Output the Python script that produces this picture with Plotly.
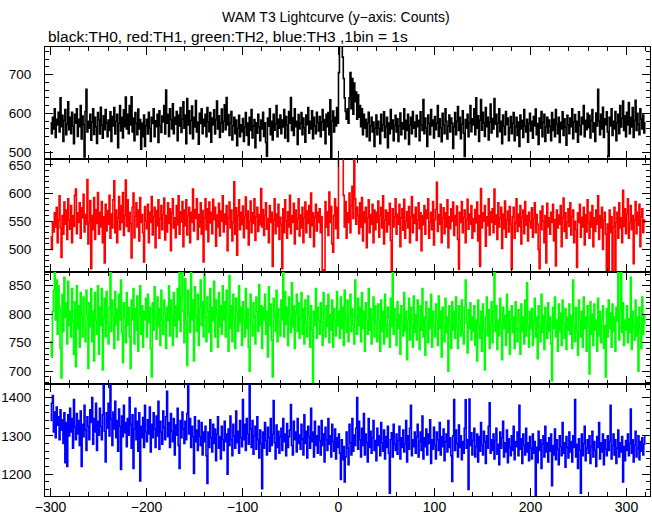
import plotly.graph_objects as go

# time bins (1 bin = 1 s), first bin at t = -300
t_start = -300

# TH0 (black) counts per 1 s bin
th0 = [
575, 548, 590, 560, 612, 538, 585, 570, 603, 552, 640, 566, 595, 528, 582, 610, 545, 572, 630, 558,
590, 548, 603, 567, 522, 598, 575, 612, 541, 585, 566, 620, 534, 593, 571, 488, 605, 662, 552, 580,
562, 598, 531, 578, 612, 546, 590, 565, 523, 602, 584, 547, 616, 570, 536, 594, 558, 610, 575, 540,
583, 556, 604, 528, 592, 568, 615, 547, 580, 598, 512, 574, 620, 555, 590, 537, 609, 566, 642, 560,
598, 548, 620, 570, 643, 552, 588, 530, 602, 575, 545, 611, 560, 584, 508, 575, 540, 596, 515, 568,
585, 547, 603, 562, 528, 590, 574, 612, 540, 581, 566, 598, 525, 607, 569, 551, 593, 578, 620, 547,
660, 575, 598, 541, 612, 584, 560, 625, 548, 590, 572, 605, 530, 596, 568, 615, 551, 585, 630, 562,
596, 522, 638, 570, 607, 548, 582, 619, 535, 590, 565, 633, 552, 578, 521, 600, 574, 612, 548, 585,
567, 598, 540, 615, 578, 553, 602, 526, 588, 570, 609, 547, 584, 632, 560, 594, 538, 575, 611, 552,
580, 622, 558, 641, 570, 597, 543, 576, 605, 532, 568, 590, 548, 583, 517, 562, 595, 540, 571, 552,
587, 528, 565, 602, 543, 575, 519, 590, 556, 610, 537, 568, 584, 512, 576, 549, 598, 565, 530, 583,
560, 603, 541, 576, 525, 490, 588, 567, 612, 545, 580, 532, 598, 557, 574, 620, 540, 585, 562, 596,
548, 583, 565, 610, 537, 592, 570, 528, 605, 575, 641, 556, 589, 543, 612, 566, 580, 520, 597, 560,
575, 602, 545, 588, 563, 526, 596, 571, 615, 549, 580, 560, 607, 535, 590, 568, 548, 603, 576, 555,
592, 540, 578, 610, 557, 584, 522, 598, 566, 602, 545, 635, 486, 580, 606, 552, 590, 568, 615, 575,
705, 790, 805, 785, 745, 690, 640, 605, 585, 612, 575, 640, 705, 612, 690, 598, 678, 630, 655, 585,
648, 590, 620, 566, 612, 545, 598, 562, 585, 540, 576, 603, 530, 568, 590, 552, 578, 515, 562, 596,
545, 580, 562, 522, 598, 555, 571, 604, 538, 566, 590, 512, 575, 548, 610, 560, 583, 530, 569, 595,
552, 586, 528, 567, 601, 545, 576, 560, 612, 535, 582, 556, 598, 520, 570, 590, 548, 605, 562, 578,
540, 595, 566, 582, 530, 604, 571, 556, 636, 548, 588, 562, 515, 596, 574, 545, 610, 568, 583, 537,
592, 558, 575, 620, 541, 586, 563, 527, 600, 570, 548, 612, 580, 534, 567, 596, 552, 588, 575, 510,
565, 602, 545, 580, 618, 556, 590, 535, 572, 607, 549, 489, 584, 562, 598, 540, 575, 620, 553, 586,
570, 612, 545, 640, 562, 594, 528, 582, 636, 557, 603, 575, 541, 615, 566, 590, 532, 578, 624, 550,
587, 560, 638, 572, 598, 540, 575, 612, 553, 580, 522, 596, 567, 545, 605, 571, 588, 530, 563, 592,
548, 575, 602, 530, 566, 590, 543, 578, 515, 596, 560, 582, 538, 610, 567, 552, 585, 526, 574, 600,
555, 580, 536, 592, 568, 611, 545, 574, 520, 588, 562, 605, 540, 577, 598, 528, 565, 590, 550, 583,
567, 530, 602, 556, 585, 540, 610, 572, 548, 590, 525, 577, 560, 604, 543, 586, 565, 518, 595, 571,
548, 588, 566, 612, 535, 578, 597, 552, 580, 526, 604, 569, 545, 590, 573, 620, 540, 582, 558, 600,
563, 595, 537, 582, 610, 552, 576, 528, 601, 568, 662, 580, 545, 598, 560, 616, 538, 586, 571, 604,
552, 489, 590, 568, 612, 543, 580, 560, 605, 530, 576, 598, 548, 620, 565, 587, 632, 556, 594, 540,
603, 570, 628, 548, 590, 565, 615, 538, 582, 634, 556, 600, 572, 545, 612, 585, 560, 596, 550, 578,
]

# TH1 (red)
th1 = [
522, 500, 548, 531, 565, 540, 575, 512, 553, 595, 538, 486, 560, 527, 584, 545, 570, 518, 590, 552,
536, 578, 512, 560, 541, 596, 607, 528, 565, 548, 583, 520, 574, 556, 598, 531, 562, 545, 624, 510,
548, 587, 466, 560, 535, 592, 518, 571, 546, 601, 527, 566, 540, 585, 512, 558, 476, 580, 533, 569,
545, 596, 520, 563, 538, 588, 622, 530, 570, 512, 556, 594, 535, 578, 548, 601, 525, 560, 623, 541,
588, 532, 566, 546, 485, 575, 600, 521, 559, 583, 540, 570, 515, 592, 548, 562, 530, 478, 576, 551,
537, 580, 512, 566, 548, 594, 526, 558, 575, 503, 569, 542, 588, 520, 555, 578, 535, 562, 591, 517,
560, 531, 583, 546, 572, 498, 565, 590, 538, 556, 521, 578, 544, 595, 527, 567, 549, 585, 505, 570,
542, 588, 526, 560, 575, 512, 566, 548, 607, 533, 571, 555, 590, 518, 562, 540, 583, 527, 569, 478,
556, 590, 535, 572, 514, 584, 547, 566, 528, 589, 553, 575, 506, 561, 540, 582, 524, 568, 550, 595,
531, 563, 545, 578, 498, 556, 584, 538, 570, 515, 548, 620, 527, 574, 490, 560, 588, 535, 566, 544,
577, 521, 559, 593, 537, 568, 508, 550, 586, 530, 565, 546, 590, 516, 558, 575, 532, 562, 544, 608,
540, 571, 525, 560, 583, 536, 555, 512, 578, 548, 566, 470, 552, 590, 528, 563, 541, 580, 518, 557,
545, 466, 572, 530, 588, 551, 520, 567, 540, 596, 528, 560, 548, 582, 510, 570, 536, 555, 590, 524,
561, 538, 575, 512, 556, 584, 530, 568, 546, 578, 522, 600, 542, 565, 505, 557, 580, 533, 566, 548,
572, 530, 558, 462, 464, 463, 585, 540, 567, 525, 602, 548, 576, 510, 495, 560, 590, 537, 575, 520,
672, 690, 668, 700, 665, 596, 540, 585, 520, 565, 548, 600, 530, 578, 612, 555, 668, 590, 545, 575,
560, 528, 583, 540, 592, 515, 567, 548, 575, 503, 556, 588, 530, 562, 545, 580, 512, 570, 535, 566,
548, 586, 522, 560, 575, 538, 595, 510, 553, 570, 531, 565, 544, 582, 516, 461, 572, 540, 558, 590,
527, 563, 545, 580, 505, 556, 572, 534, 589, 520, 550, 567, 538, 576, 512, 558, 594, 530, 562, 546,
575, 516, 552, 583, 537, 565, 498, 560, 544, 578, 527, 570, 555, 590, 520, 548, 566, 535, 585, 508,
553, 571, 619, 532, 562, 545, 580, 512, 556, 574, 528, 565, 540, 588, 503, 558, 537, 572, 550, 584,
525, 560, 543, 577, 518, 465, 566, 548, 585, 530, 557, 570, 512, 553, 589, 536, 563, 545, 578, 520,
555, 532, 571, 547, 584, 515, 560, 470, 608, 538, 565, 550, 578, 506, 558, 542, 590, 526, 567, 548,
572, 530, 607, 545, 561, 518, 583, 540, 556, 575, 502, 563, 537, 586, 522, 552, 568, 531, 576, 545,
465, 558, 575, 520, 547, 590, 532, 563, 541, 578, 510, 556, 570, 528, 585, 543, 560, 515, 566, 550,
538, 574, 522, 555, 583, 530, 562, 545, 500, 466, 568, 535, 577, 550, 512, 560, 476, 582, 540, 556,
527, 566, 548, 580, 515, 553, 471, 570, 538, 561, 545, 578, 505, 556, 591, 532, 565, 520, 548, 572,
541, 583, 526, 558, 570, 512, 550, 535, 468, 565, 548, 580, 522, 557, 540, 575, 508, 562, 531, 588,
548, 520, 566, 540, 578, 505, 556, 532, 570, 545, 595, 518, 560, 538, 575, 500, 552, 566, 527, 462,
545, 462, 570, 530, 558, 461, 540, 575, 463, 548, 566, 520, 583, 538, 556, 512, 605, 541, 572, 528,
563, 590, 520, 548, 578, 535, 560, 475, 552, 585, 528, 566, 543, 580, 505, 558, 572, 530, 552, 547,
]

# TH2 (green)
th2 = [
752, 725, 805, 842, 873, 790, 860, 765, 850, 812, 740, 688, 835, 770, 865, 795, 820, 748, 858, 780,
805, 760, 845, 788, 730, 822, 708, 850, 775, 815, 742, 838, 798, 760, 830, 785, 752, 842, 800, 705,
820, 778, 845, 752, 805, 718, 838, 790, 765, 850, 730, 812, 780, 845, 702, 795, 828, 760, 840, 785,
748, 812, 873, 770, 825, 795, 740, 840, 782, 810, 755, 835, 790, 860, 768, 715, 820, 795, 750, 838,
780, 812, 760, 705, 825, 790, 845, 748, 810, 772, 832, 735, 798, 850, 765, 815, 742, 805, 790, 828,
760, 835, 785, 812, 740, 690, 820, 772, 848, 795, 756, 830, 778, 810, 745, 842, 790, 765, 825, 800,
740, 812, 788, 850, 762, 825, 795, 745, 838, 780, 815, 760, 845, 790, 874, 770, 830, 876, 805, 750,
862, 785, 710, 842, 800, 768, 875, 790, 825, 718, 848, 795, 770, 835, 745, 812, 860, 780, 822, 760,
870, 795, 752, 830, 805, 768, 845, 735, 812, 788, 858, 760, 825, 800, 742, 838, 778, 815, 765, 850,
790, 822, 760, 842, 798, 735, 868, 775, 815, 752, 835, 792, 740, 828, 805, 770, 850, 785, 812, 745,
822, 790, 760, 845, 775, 810, 742, 700, 835, 785, 762, 820, 795, 748, 830, 805, 770, 852, 780, 815,
740, 812, 790, 835, 765, 805, 725, 848, 780, 818, 755, 690, 828, 795, 770, 842, 752, 810, 785, 762,
825, 790, 876, 760, 840, 782, 812, 745, 830, 795, 768, 855, 778, 815, 740, 802, 835, 770, 820, 758,
792, 838, 765, 810, 748, 825, 785, 760, 832, 798, 742, 815, 772, 679, 805, 780, 845, 758, 812, 790,
765, 820, 785, 745, 838, 792, 760, 815, 778, 835, 750, 800, 772, 825, 742, 810, 788, 762, 840, 780,
805, 758, 830, 775, 812, 745, 842, 790, 768, 825, 752, 798, 835, 770, 810, 782, 748, 860, 795, 765,
828, 780, 812, 752, 838, 775, 805, 735, 820, 790, 765, 845, 772, 810, 748, 795, 830, 760, 815, 785,
752, 818, 790, 735, 825, 770, 805, 748, 835, 782, 760, 812, 795, 742, 828, 778, 873, 765, 810, 790,
745, 822, 775, 800, 730, 815, 785, 762, 838, 770, 805, 720, 790, 828, 755, 812, 780, 742, 832, 768,
800, 755, 825, 780, 738, 815, 772, 845, 760, 795, 728, 822, 788, 750, 810, 775, 835, 742, 805, 782,
760, 818, 790, 745, 832, 775, 805, 725, 812, 780, 752, 828, 768, 795, 700, 815, 785, 740, 822, 772,
805, 758, 830, 778, 740, 815, 790, 762, 825, 770, 748, 812, 860, 785, 732, 808, 775, 820, 755, 795,
770, 815, 745, 790, 718, 825, 780, 758, 805, 735, 818, 772, 702, 795, 830, 762, 808, 740, 785, 822,
750, 805, 876, 770, 815, 738, 790, 762, 828, 780, 720, 812, 775, 798, 745, 835, 768, 805, 730, 790,
815, 768, 795, 740, 822, 775, 752, 808, 785, 730, 818, 770, 795, 748, 825, 762, 855, 780, 742, 805,
775, 810, 745, 790, 828, 760, 795, 722, 815, 780, 752, 835, 768, 798, 738, 812, 785, 758, 820, 770,
795, 748, 683, 812, 775, 830, 760, 790, 735, 818, 770, 802, 745, 825, 782, 758, 810, 738, 795, 772,
818, 765, 798, 740, 860, 782, 752, 812, 770, 728, 825, 790, 760, 805, 742, 830, 775, 795, 735, 815,
780, 695, 822, 765, 800, 745, 818, 772, 790, 735, 828, 762, 805, 750, 792, 815, 740, 780, 690, 810,
760, 825, 775, 802, 742, 818, 770, 795, 735, 812, 788, 876, 755, 808, 875, 768, 820, 745, 790, 772,
815, 750, 792, 768, 865, 738, 805, 780, 755, 825, 762, 795, 700, 812, 775, 740, 830, 765, 798, 782,
]

# TH3 (blue)
th3 = [
1340, 1385, 1405, 1310, 1362, 1295, 1375, 1328, 1350, 1290, 1368, 1315, 1342, 1280, 1360, 1230, 1335, 1220, 1355, 1300,
1372, 1310, 1345, 1268, 1395, 1322, 1290, 1358, 1305, 1340, 1275, 1365, 1220, 1330, 1298, 1380, 1315, 1262, 1350, 1325,
1290, 1368, 1335, 1400, 1278, 1345, 1310, 1385, 1262, 1338, 1302, 1372, 1325, 1290, 1355, 1433, 1312, 1232, 1360, 1320,
1385, 1300, 1436, 1345, 1275, 1362, 1318, 1390, 1295, 1340, 1260, 1370, 1325, 1212, 1352, 1298, 1380, 1308, 1335, 1272,
1345, 1302, 1400, 1330, 1268, 1355, 1215, 1318, 1372, 1290, 1338, 1260, 1360, 1182, 1325, 1295, 1348, 1270, 1380, 1310,
1285, 1342, 1305, 1375, 1258, 1330, 1295, 1360, 1318, 1270, 1352, 1300, 1390, 1265, 1338, 1310, 1278, 1365, 1322, 1290,
1350, 1416, 1298, 1335, 1270, 1358, 1312, 1285, 1345, 1250, 1328, 1302, 1372, 1275, 1215, 1340, 1295, 1362, 1318, 1280,
1338, 1290, 1358, 1436, 1305, 1345, 1270, 1325, 1298, 1202, 1350, 1285, 1315, 1262, 1340, 1298, 1275, 1335, 1250, 1310,
1285, 1325, 1248, 1176, 1310, 1270, 1342, 1295, 1258, 1330, 1280, 1318, 1235, 1305, 1350, 1268, 1298, 1240, 1325, 1290,
1262, 1338, 1285, 1305, 1200, 1318, 1275, 1352, 1290, 1248, 1330, 1300, 1268, 1365, 1282, 1312, 1255, 1340, 1295, 1272,
1395, 1290, 1330, 1262, 1345, 1305, 1278, 1432, 1318, 1270, 1340, 1252, 1300, 1325, 1265, 1350, 1290, 1242, 1315, 1280,
1162, 1310, 1268, 1335, 1288, 1250, 1322, 1295, 1260, 1345, 1275, 1305, 1392, 1282, 1240, 1328, 1270, 1312, 1255, 1298,
1320, 1262, 1345, 1285, 1305, 1248, 1332, 1270, 1298, 1315, 1382, 1275, 1250, 1338, 1290, 1310, 1258, 1345, 1280, 1302,
1265, 1330, 1292, 1250, 1355, 1280, 1312, 1242, 1325, 1298, 1268, 1372, 1285, 1310, 1245, 1338, 1275, 1300, 1255, 1325,
1288, 1250, 1340, 1275, 1305, 1232, 1322, 1290, 1262, 1345, 1278, 1300, 1245, 1330, 1285, 1260, 1318, 1240, 1295, 1270,
1305, 1255, 1186, 1290, 1238, 1272, 1180, 1245, 1310, 1268, 1225, 1330, 1282, 1250, 1345, 1260, 1302, 1275, 1320, 1400,
1265, 1338, 1290, 1245, 1320, 1275, 1358, 1250, 1305, 1282, 1232, 1345, 1270, 1312, 1255, 1295, 1340, 1262, 1288, 1235,
1320, 1275, 1300, 1248, 1335, 1282, 1260, 1315, 1240, 1298, 1270, 1325, 1255, 1150, 1290, 1308, 1245, 1330, 1278, 1262,
1305, 1252, 1288, 1325, 1240, 1295, 1270, 1315, 1258, 1280, 1340, 1232, 1300, 1265, 1320, 1380, 1248, 1290, 1272, 1310,
1255, 1298, 1330, 1245, 1285, 1310, 1262, 1352, 1240, 1295, 1272, 1318, 1250, 1305, 1280, 1342, 1228, 1290, 1265, 1322,
1275, 1240, 1310, 1290, 1262, 1335, 1250, 1298, 1272, 1318, 1235, 1285, 1305, 1258, 1340, 1270, 1295, 1248, 1181, 1300,
1395, 1262, 1315, 1280, 1245, 1328, 1270, 1300, 1238, 1285, 1255, 1320, 1394, 1268, 1290, 1160, 1396, 1275, 1308, 1250,
1288, 1320, 1245, 1272, 1305, 1232, 1298, 1260, 1335, 1275, 1250, 1312, 1285, 1228, 1300, 1268, 1325, 1386, 1255, 1290,
1262, 1305, 1240, 1288, 1320, 1252, 1278, 1225, 1310, 1268, 1295, 1338, 1245, 1282, 1258, 1315, 1230, 1292, 1270, 1248,
1300, 1262, 1325, 1238, 1285, 1272, 1310, 1248, 1380, 1265, 1292, 1228, 1305, 1275, 1250, 1320, 1258, 1282, 1235, 1298,
1268, 1240, 1305, 1255, 1285, 1142, 1270, 1230, 1312, 1262, 1290, 1215, 1278, 1300, 1245, 1325, 1258, 1282, 1232, 1295,
1260, 1305, 1170, 1275, 1250, 1318, 1238, 1290, 1265, 1225, 1300, 1272, 1248, 1335, 1255, 1282, 1218, 1298, 1270, 1242,
1310, 1258, 1285, 1232, 1300, 1270, 1395, 1245, 1278, 1215, 1292, 1262, 1150, 1305, 1248, 1280, 1325, 1235, 1268, 1290,
1255, 1300, 1228, 1272, 1312, 1245, 1285, 1262, 1220, 1298, 1270, 1335, 1240, 1282, 1258, 1305, 1225, 1290, 1265, 1248,
1300, 1262, 1285, 1380, 1240, 1275, 1305, 1250, 1290, 1228, 1268, 1315, 1245, 1282, 1258, 1298, 1180, 1272, 1235, 1288,
1262, 1305, 1248, 1280, 1370, 1255, 1290, 1232, 1275, 1312, 1245, 1268, 1300, 1238, 1285, 1260, 1295, 1250, 1278, 1300,
]

series_names = ["TH0", "TH1", "TH2", "TH3"]
series_values = [th0, th1, th2, th3]
colors = ["#000000", "#ff0000", "#00ff00", "#0000ff"]
y_ranges = [[482, 771], [461, 660], [678, 875], [1143, 1436]]
y_major = [100, 50, 50, 100]
y_minor = [20, 10, 10, 20]
x_range = [-305.7, 324.5]

title_text = "WAM T3 Lightcurve (y\u2212axis: Counts)"
subtitle_text = "black:TH0, red:TH1, green:TH2, blue:TH3 ,1bin = 1s"

FONT = "Liberation Sans, Arial, Helvetica, sans-serif"

# plot-area geometry in pixels
W, H = 652, 515
ML, MR, MT, MB = 45, 2, 47, 19
PH = H - MT - MB

fig = go.Figure()
n = len(series_values)
layout = {}
for i, (name, vals, col) in enumerate(zip(series_names, series_values, colors)):
    idx = "" if i == 0 else str(i + 1)
    times = list(range(t_start, t_start + len(vals)))
    fig.add_trace(go.Scatter(
        x=times, y=vals, mode="lines", name=name,
        line=dict(color=col, width=1.6, shape="hv"),
        xaxis="x" + idx, yaxis="y" + idx, showlegend=False, hoverinfo="skip",
    ))
    top = 1 - i / n
    bot = 1 - (i + 1) / n
    xa = dict(
        domain=[0, 1], anchor="y" + idx, range=x_range, automargin=False,
        showgrid=False, zeroline=False,
        showline=True, linecolor="black", linewidth=1, mirror="allticks",
        ticks="inside", ticklen=8, tickwidth=1, tickcolor="black",
        dtick=100, tick0=0,
        minor=dict(ticks="inside", ticklen=4, dtick=20, tickcolor="black", showgrid=False),
        showticklabels=(i == n - 1),
        tickfont=dict(family=FONT, size=14, color="black"),
        ticklabelstandoff=-2,
    )
    if i > 0:
        xa["matches"] = "x"
    layout["xaxis" + idx] = xa
    layout["yaxis" + idx] = dict(
        domain=[bot, top], anchor="x" + idx, range=y_ranges[i], automargin=False,
        showgrid=False, zeroline=False,
        showline=True, linecolor="black", linewidth=1, mirror="allticks",
        ticks="inside", ticklen=8, tickwidth=1, tickcolor="black",
        dtick=y_major[i], tick0=0,
        minor=dict(ticks="inside", ticklen=4, dtick=y_minor[i], tickcolor="black", showgrid=False),
        tickfont=dict(family=FONT, size=13.5, color="black"),
        ticklabelstandoff=10,
    )

fig.update_layout(
    width=W, height=H,
    margin=dict(l=ML, r=MR, t=MT, b=MB, autoexpand=False),
    paper_bgcolor="white", plot_bgcolor="white",
    font=dict(family=FONT, size=14, color="black"),
    showlegend=False,
    hovermode=False,
    annotations=[
        dict(text=title_text, xref="paper", yref="paper",
             x=(336 - ML) / (W - ML - MR), y=(H - MB - 17) / PH,
             xanchor="center", yanchor="middle", showarrow=False,
             font=dict(family=FONT, size=14, color="black")),
        dict(text=subtitle_text, xref="paper", yref="paper",
             x=(46 - ML) / (W - ML - MR), y=(H - MB - 36) / PH,
             xanchor="left", yanchor="middle", showarrow=False,
             font=dict(family=FONT, size=15.5, color="black")),
    ],
    **layout,
)

fig.write_html(
    "out.html",
    config={"displayModeBar": False, "staticPlot": True},
    post_script="document.body.style.margin='0';document.body.style.padding='0';"
                "document.documentElement.style.overflow='hidden';",
)
